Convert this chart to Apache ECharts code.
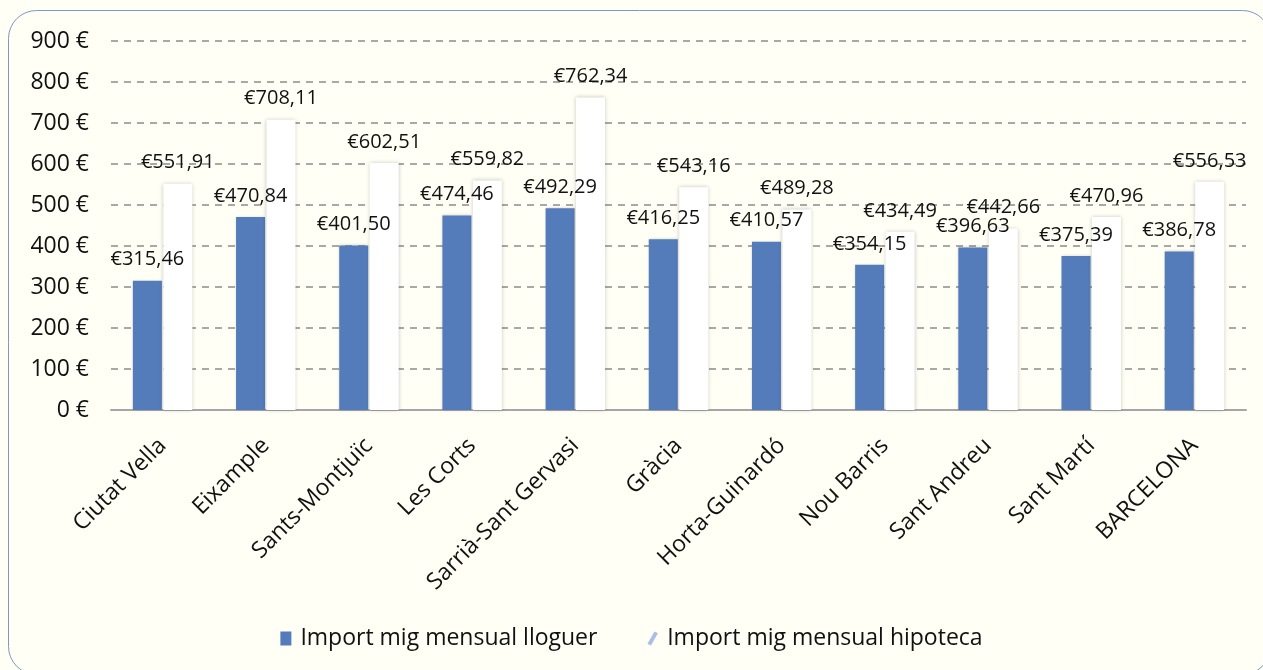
<!DOCTYPE html>
<html>
<head>
<meta charset="utf-8">
<script src="https://cdn.jsdelivr.net/npm/echarts@6/dist/echarts.min.js"></script>
<style>
  html, body { margin: 0; padding: 0; background: #fffff5; }
  #chart { width: 1263px; height: 670px; }
</style>
</head>
<body>
<div id="chart"></div>
<script>
// districtes
var categories = ['Ciutat Vella', 'Eixample', 'Sants-Montjuïc', 'Les Corts', 'Sarrià-Sant Gervasi',
  'Gràcia', 'Horta-Guinardó', 'Nou Barris', 'Sant Andreu', 'Sant Martí', 'BARCELONA']
// import mig mensual lloguer
var lloguer = [315.46, 470.84, 401.50, 474.46, 492.29, 416.25, 410.57, 354.15, 396.63, 375.39, 386.78]
// import mig mensual hipoteca
var hipoteca = [551.91, 708.11, 602.51, 559.82, 762.34, 543.16, 489.28, 434.49, 442.66, 470.96, 556.53]
var seriesNames = ['Import mig mensual lloguer', 'Import mig mensual hipoteca']

var FONT = '"Open Sans", "Noto Sans", sans-serif'

function euroLabel(p) {
  return '€' + p.value.toFixed(2).replace('.', ',')
}

var chart = echarts.init(document.getElementById('chart'))
chart.setOption({
  backgroundColor: '#fffff5',
  textStyle: { fontFamily: FONT },
  animation: false,
  graphic: [{
    type: 'rect',
    z: -10,
    shape: { x: 8.5, y: 10.5, width: 1262, height: 664, r: 28 },
    style: { fill: '#fffff5', stroke: '#7b98cc', lineWidth: 1 }
  }],
  grid: { left: 111, right: 17, top: 41, bottom: 260 },
  legend: {
    bottom: 15,
    left: 'center',
    itemGap: 50,
    itemWidth: 11,
    itemHeight: 14,
    textStyle: { fontSize: 23, color: '#111', fontFamily: FONT, padding: [0, 0, 0, 4] },
    data: [
      { name: seriesNames[0], icon: 'rect' },
      { name: seriesNames[1], icon: 'path://M2,10 L6,3 L8,4 L4,11 Z', itemStyle: { color: '#a8bfe6' } }
    ]
  },
  xAxis: {
    type: 'category',
    data: categories,
    axisTick: { show: false },
    axisLine: { lineStyle: { color: '#a6a6a6', width: 2 } },
    axisLabel: {
      rotate: 45,
      interval: 0,
      margin: 32,
      fontSize: 23,
      color: '#111',
      fontFamily: FONT
    }
  },
  yAxis: {
    type: 'value',
    min: 0,
    max: 900,
    interval: 100,
    axisLine: { show: false },
    axisTick: { show: false },
    axisLabel: {
      fontSize: 23,
      color: '#111',
      margin: 22,
      fontFamily: FONT,
      formatter: function (v) { return v + ' €' }
    },
    splitLine: { lineStyle: { color: '#8c8c8c', type: [7, 6], width: 1.5 } }
  },
  series: [{
    name: seriesNames[0],
    type: 'bar',
    data: lloguer,
    barWidth: 29,
    barGap: '5%',
    itemStyle: {
      color: '#547bba',
      shadowColor: 'rgba(0,0,0,0.18)',
      shadowBlur: 3
    },
    label: {
      show: true,
      position: 'top',
      distance: 11,
      fontSize: 20,
      color: '#111',
      fontFamily: FONT,
      formatter: euroLabel
    }
  }, {
    name: seriesNames[1],
    type: 'bar',
    data: hipoteca,
    barWidth: 29,
    itemStyle: {
      color: '#ffffff',
      shadowColor: 'rgba(0,0,0,0.22)',
      shadowBlur: 4
    },
    label: {
      show: true,
      position: 'top',
      distance: 11,
      fontSize: 20,
      color: '#111',
      fontFamily: FONT,
      formatter: euroLabel
    }
  }]
})
</script>
</body>
</html>
